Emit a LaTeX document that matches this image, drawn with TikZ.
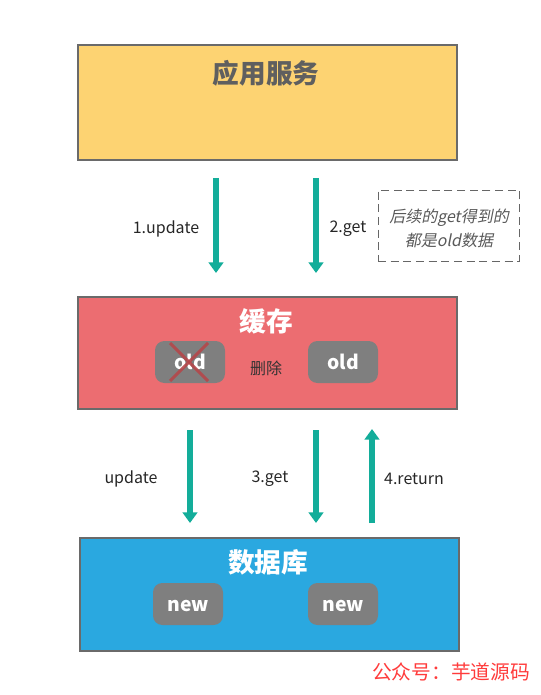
\documentclass[tikz,border=0pt]{standalone}
\usepackage{fontspec}
\setmainfont{Noto Sans CJK SC}
\newfontfamily\cjk{Noto Sans CJK SC}
\newfontfamily\cjkit[FakeSlant=0.2]{Noto Sans CJK SC}
\usetikzlibrary{arrows.meta,shadows}
\definecolor{appfill}{HTML}{FDD372}
\definecolor{cachefill}{HTML}{EC6D71}
\definecolor{dbfill}{HTML}{2AA8E0}
\definecolor{boxborder}{HTML}{6A6A6A}
\definecolor{pillgray}{HTML}{7F7F7F}
\definecolor{teal}{HTML}{13AD9A}
\definecolor{titlegray}{HTML}{5F5F5F}
\definecolor{xred}{HTML}{B5474A}
\definecolor{footred}{HTML}{FF3B3B}
\tikzset{
  bigbox/.style={draw=boxborder, line width=1.3pt, minimum width={379*0.75pt}, anchor=north west, inner sep=0pt,
    drop shadow={shadow xshift=1.2pt, shadow yshift=-1.2pt, opacity=0.3, fill=black}},
  pill/.style={fill=pillgray, rounded corners=7pt, minimum width={70*0.75pt}, minimum height={42*0.75pt}, inner sep=0pt,
    text=white, font=\bfseries\fontsize{14.5}{16}\selectfont, text height=11.5pt, text depth=0pt},
  flow/.style={draw=teal, line width=5.2pt, -{Triangle[width=11pt,length=8pt]}},
  lbl/.style={font=\fontsize{12}{14}\selectfont, text=black!85, yshift=-1.5pt},
  title/.style={font=\bfseries\fontsize{20}{24}\selectfont},
}
\begin{document}
\begin{tikzpicture}[x=0.75pt,y=-0.75pt]
\useasboundingbox (0,0) rectangle (541,695);
% boxes
\node[bigbox, fill=appfill, minimum height={115*0.75pt}] (app) at (77,44) {};
\node[bigbox, fill=cachefill, minimum height={112*0.75pt}] (cache) at (77,296) {};
\node[bigbox, fill=dbfill, minimum height={113*0.75pt}] (db) at (79,537) {};
% titles
\node[title, text=titlegray] (apptitle) at (266,73) {应用服务};
\node[title, text=white] (cachetitle) at (266,321) {缓存};
\node[title, text=white] (dbtitle) at (268,562) {数据库};
% pills
\node[pill] (old1) at (190,362) {old};
\node[pill] (old2) at (343,362) {old};
\node[pill] (new1) at (188,604) {new};
\node[pill] (new2) at (343,604) {new};
\draw[xred, line width=2.2pt, opacity=0.9] (old1.center) +(-20,-19) -- +(18,19);
\draw[xred, line width=2.2pt, opacity=0.9] (old1.center) +(18,-19) -- +(-20,19);
\node[font=\fontsize{12}{14}\selectfont, text=black!80, yshift=-1pt] (del) at (266,367) {删除};
% arrows
\coordinate (a1s) at (216,178); \coordinate (a1e) at (216,273);
\coordinate (a2s) at (316,178); \coordinate (a2e) at (316,273);
\coordinate (b1s) at (190,430); \coordinate (b1e) at (190,523);
\coordinate (b2s) at (316,430); \coordinate (b2e) at (316,523);
\coordinate (b3s) at (372,523); \coordinate (b3e) at (372,429);
\draw[flow] (a1s) -- (a1e);
\draw[flow] (a2s) -- (a2e);
\draw[flow] (b1s) -- (b1e);
\draw[flow] (b2s) -- (b2e);
\draw[flow] (b3s) -- (b3e);
\node[lbl] (l1) at (166,227) {1.update};
\node[lbl] (l2) at (348,227) {2.get};
\node[lbl] (l3) at (131,477) {update};
\node[lbl] (l4) at (270,477) {3.get};
\node[lbl] (l5) at (414,477) {4.return};
% dashed note
\node[draw=black!60, dash pattern=on 6pt off 3.5pt, line width=0.7pt, minimum width={141*0.75pt}, minimum height={71*0.75pt}, inner sep=0pt] (note) at (448.5,225.5) {};
\node[text=black!65, font=\cjkit\fontsize{12}{18}\selectfont, align=center] (notetext) at (449,228) {后续的get得到的\\都是old数据};
% footer
\node[text=footred, font=\fontsize{14.8}{17}\selectfont] (foot) at (451,672) {公众号：芋道源码};
\end{tikzpicture}
\end{document}
